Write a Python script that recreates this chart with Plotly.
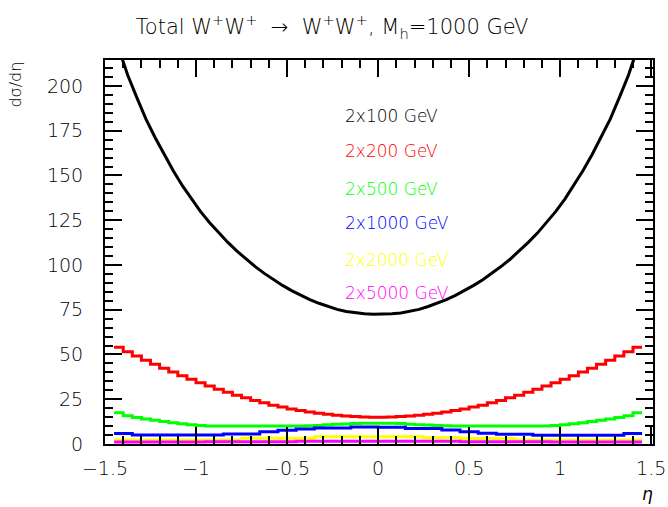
import plotly.graph_objects as go

# Bin edges (eta) of the histograms: 58 bins of width 0.05 from -1.45 to 1.45
bin_width = 0.05
eta_edges = [round(-1.45 + bin_width * i, 3) for i in range(59)]
eta_centers = [round((a + b) / 2, 4) for a, b in zip(eta_edges[:-1], eta_edges[1:])]

series_names = ["2x100 GeV", "2x200 GeV", "2x500 GeV", "2x1000 GeV", "2x2000 GeV", "2x5000 GeV"]
series_colors = ["#000000", "#ff0000", "#00ff00", "#0000ff", "#ffff00", "#ff00ff"]

v_100 = [221.0, 206.0, 193.5, 181.5, 171.2, 161.6, 152.6, 144.3, 136.7, 129.8,
         123.6, 117.8, 112.6, 107.7, 103.2, 99.1, 95.3, 91.8, 88.6, 85.7,
         83.0, 80.7, 78.6, 76.8, 75.2, 74.0, 73.2, 72.7, 72.5,
         72.5, 72.7, 73.2, 74.0, 75.2, 76.8, 78.6, 80.7, 83.0, 85.7,
         88.6, 91.8, 95.3, 99.1, 103.2, 107.7, 112.6, 117.8, 123.6, 129.8,
         136.7, 144.3, 152.6, 161.6, 171.2, 181.5, 193.5, 206.0, 221.0]

v_200 = [54.0, 51.5, 49.1, 46.8, 44.5, 42.3, 40.2, 38.1, 36.1, 34.2,
         32.4, 30.6, 28.9, 27.3, 25.8, 24.3, 23.0, 21.7, 20.6, 19.6,
         18.7, 17.9, 17.2, 16.6, 16.0, 15.6, 15.3, 15.1, 15.0,
         15.0, 15.1, 15.3, 15.6, 16.0, 16.6, 17.2, 17.9, 18.7, 19.6,
         20.6, 21.7, 23.0, 24.3, 25.8, 27.3, 28.9, 30.6, 32.4, 34.2,
         36.1, 38.1, 40.2, 42.3, 44.5, 46.8, 49.1, 51.5, 54.0]

v_500 = [17.5, 15.8, 14.8, 14.0, 13.2, 12.5, 11.9, 11.3, 10.8, 10.4,
         10.1, 10.0, 10.0, 10.0, 10.0, 10.0, 10.0, 10.0, 10.0, 10.0,
         10.1, 10.2, 10.4, 10.8, 11.0, 11.2, 11.4, 11.6, 11.6,
         11.6, 11.6, 11.4, 11.0, 10.8, 10.6, 10.4, 10.2, 10.1, 10.0,
         10.0, 10.0, 10.0, 10.0, 10.0, 10.0, 10.0, 10.0, 10.1, 10.4,
         10.8, 11.3, 11.9, 12.5, 13.2, 14.0, 14.8, 15.8, 17.5]

v_1000 = [5.8, 5.8, 5.0, 5.0, 5.0, 5.0, 5.0, 5.0, 5.0, 5.0,
          5.0, 5.0, 5.6, 5.6, 5.6, 5.6, 6.8, 6.8, 7.7, 7.7,
          8.4, 8.4, 9.0, 9.0, 9.0, 9.0, 9.5, 9.5, 9.5,
          9.4, 9.4, 9.4, 8.7, 8.7, 8.7, 8.7, 7.8, 7.8, 6.9,
          6.9, 6.0, 6.0, 5.4, 5.4, 5.4, 5.4, 4.9, 4.9, 4.9,
          4.9, 4.9, 4.9, 4.9, 4.9, 4.9, 4.9, 5.8, 5.8]

v_2000 = [2.3, 2.3, 2.3, 2.3, 2.3, 2.3, 2.3, 2.3, 2.3, 2.3,
          2.3, 2.3, 2.3, 2.3, 3.2, 3.2, 3.2, 3.2, 3.2, 3.2,
          3.2, 3.2, 4.0, 4.0, 4.0, 4.0, 4.0, 4.0, 4.0,
          4.1, 4.1, 4.1, 4.1, 4.1, 3.6, 3.6, 3.6, 3.6, 3.1,
          3.1, 3.1, 3.1, 3.1, 3.1, 2.3, 2.3, 2.3, 2.3, 2.3,
          2.3, 2.3, 2.3, 2.3, 2.3, 2.3, 2.3, 2.3, 2.3]

v_5000 = [1.1, 1.1, 1.1, 1.1, 1.1, 1.1, 1.1, 1.1, 1.1, 1.1,
          1.3, 1.3, 1.3, 1.3, 1.3, 1.3, 1.3, 1.3, 1.3, 1.3,
          1.5, 1.5, 1.5, 1.5, 1.5, 1.5, 1.5, 1.5, 1.5,
          1.5, 1.5, 1.5, 1.5, 1.5, 1.5, 1.5, 1.5, 1.5, 1.3,
          1.3, 1.3, 1.3, 1.3, 1.3, 1.3, 1.3, 1.3, 1.3, 1.1,
          1.1, 1.1, 1.1, 1.1, 1.1, 1.1, 1.1, 1.1, 1.1]

series_values = [v_100, v_200, v_500, v_1000, v_2000, v_5000]

x_ticks = [-1.5, -1.0, -0.5, 0.0, 0.5, 1.0, 1.5]
y_ticks = [0, 25, 50, 75, 100, 125, 150, 175, 200]

FONT = "DejaVu Sans"
W = 200  # light weight, as the reference font is thin

fig = go.Figure()
for i, (name, col, vals) in enumerate(zip(series_names, series_colors, series_values)):
    if i == 0:
        # the narrow-binned 2x100 GeV curve looks smooth
        xs, ys, shape = eta_centers, vals, "linear"
    else:
        xs, ys, shape = eta_edges, vals + [vals[-1]], "hv"
    fig.add_trace(go.Scatter(
        x=xs, y=ys, mode="lines", name=name,
        line=dict(color=col, width=3, shape=shape), showlegend=False,
    ))

# legend texts
legend_y = [0.854, 0.762, 0.664, 0.575, 0.479, 0.392]
for name, col, yy in zip(series_names, series_colors, legend_y):
    fig.add_annotation(x=0.434, y=yy, xref="paper", yref="paper", text=name,
                       showarrow=False, xanchor="left", yanchor="middle",
                       font=dict(family=FONT, size=17, color=col, weight=W))

fig.update_layout(
    template="none",
    width=668, height=507,
    margin=dict(l=105, r=15, t=60, b=63),
    paper_bgcolor="white", plot_bgcolor="white",
    title=dict(
        text="Total W<sup>+</sup>W<sup>+</sup>  \u2192  W<sup>+</sup>W<sup>+</sup>, M<sub>h</sub>=1000 GeV",
        x=0.497, xanchor="center", y=0.947, yanchor="middle",
        font=dict(family=FONT, size=21, color="black", weight=W),
    ),
    xaxis=dict(
        range=[-1.5, 1.51], tickvals=x_ticks, ticks="inside", ticklen=17, tickwidth=1.5,
        tickcolor="black",
        minor=dict(dtick=0.1, tick0=-1.5, ticks="inside", ticklen=8, tickwidth=1.5, tickcolor="black"),
        showline=True, linecolor="black", linewidth=2, mirror="allticks",
        showgrid=False, zeroline=False, automargin=False,
        tickfont=dict(family=FONT, size=19, color="black", weight=W),
        ticklabelstandoff=6,
    ),
    yaxis=dict(
        range=[0, 214.5], tickvals=y_ticks, ticks="inside", ticklen=17, tickwidth=1.5,
        tickcolor="black",
        minor=dict(dtick=5, tick0=0, ticks="inside", ticklen=8, tickwidth=1.5, tickcolor="black"),
        showline=True, linecolor="black", linewidth=2, mirror="allticks",
        showgrid=False, zeroline=False, automargin=False,
        tickfont=dict(family=FONT, size=19, color="black", weight=W),
        ticklabelstandoff=16,
    ),
)

# axis titles
fig.add_annotation(x=-0.165, y=1.0, xref="paper", yref="paper", text="d\u03c3/d\u03b7",
                   textangle=-90, showarrow=False, xanchor="center", yanchor="top",
                   font=dict(family=FONT, size=16, color="black", weight=W))
fig.add_annotation(x=0.99, y=-0.13, xref="paper", yref="paper", text="<i>\u03b7</i>",
                   showarrow=False, xanchor="center", yanchor="middle",
                   font=dict(family=FONT, size=17, color="black", weight=W))

fig.write_html("out.html", config={"displayModeBar": False},
               post_script="document.body.style.margin='0px';")
